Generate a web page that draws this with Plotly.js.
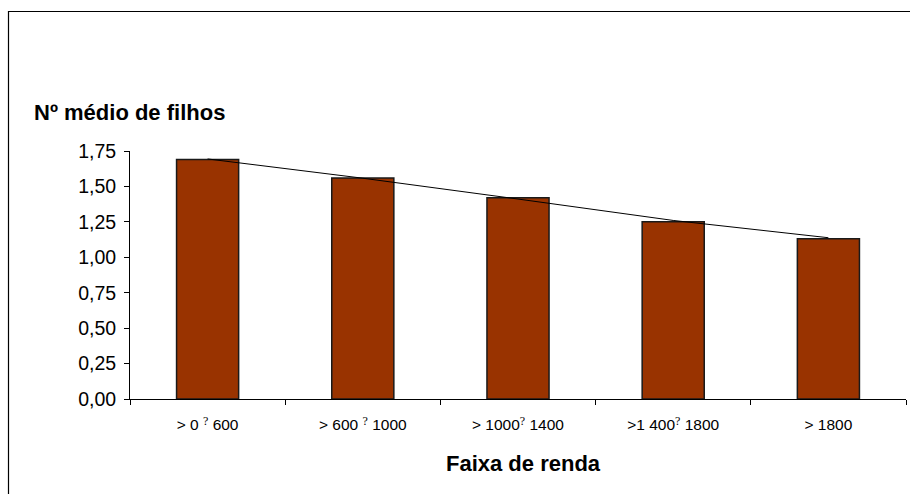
<!DOCTYPE html>
<html>
<head>
<meta charset="utf-8">
<script src="https://cdn.plot.ly/plotly-3.0.1.min.js"></script>
<style>html,body{margin:0;padding:0;background:#fff;overflow:hidden}#chart{width:910px;height:494px}</style>
</head>
<body>
<div id="chart"></div>
<script>
var categories = ["0-600", "600-1000", "1000-1400", "1400-1800", "1800+"];
var q = '<span style="font-family:Liberation Serif,Times New Roman,serif;font-size:12px;baseline-shift:5px">?</span>';
var tickLabels = ["> 0 " + q + " 600", "> 600 " + q + " 1000", "> 1000" + q + " 1400", ">1 400" + q + " 1800", "> 1800"];
var meanChildren = [1.69, 1.56, 1.42, 1.25, 1.13];
var trendValues = [1.694, 1.558, 1.411, 1.26, 1.138];
var yTitle = "Nº médio de filhos";
var xTitle = "Faixa de renda";

var W = 910, H = 494, L = 130, R = 4, T = 151, B = 95;
var pw = W - L - R, ph = H - T - B;
function px(x){ return (x - L) / pw; }
function py(y){ return (H - B - y) / ph; }

var font = "Arial, Liberation Sans, sans-serif";

var traces = [
  {
    type: "bar",
    x: categories,
    y: meanChildren,
    width: 0.4,
    marker: {color: "#993300", line: {color: "#1a1a1a", width: 1.5}},
    hoverinfo: "x+y"
  },
  {
    type: "scatter",
    mode: "lines",
    x: categories,
    y: trendValues,
    line: {color: "#000", width: 1},
    hoverinfo: "skip"
  }
];

var layout = {
  width: W, height: H,
  margin: {l: L, r: R, t: T, b: B, pad: 0},
  paper_bgcolor: "#fff",
  plot_bgcolor: "#fff",
  showlegend: false,
  separators: ",.",
  font: {family: font, color: "#000"},
  xaxis: {
    type: "category",
    tickmode: "array",
    tickvals: categories,
    ticktext: tickLabels,
    tickson: "boundaries",
    ticks: "outside",
    ticklen: 5,
    tickcolor: "#000",
    showline: true,
    linecolor: "#000",
    linewidth: 1,
    showgrid: false,
    zeroline: false,
    tickfont: {size: 15.5, family: font, color: "#000"},
    ticklabelstandoff: 11,
    fixedrange: true
  },
  yaxis: {
    range: [0, 1.75],
    tickmode: "linear",
    tick0: 0,
    dtick: 0.25,
    tickformat: ".2f",
    ticks: "outside",
    ticklen: 5,
    tickcolor: "#000",
    showline: true,
    linecolor: "#000",
    linewidth: 1,
    showgrid: false,
    zeroline: false,
    tickfont: {size: 19.5, family: font, color: "#000"},
    ticklabelstandoff: 4,
    fixedrange: true
  },
  annotations: [
    {
      text: "<b>" + yTitle + "</b>",
      xref: "paper", yref: "paper",
      x: px(32), y: py(113),
      xanchor: "left", yanchor: "middle",
      showarrow: false,
      font: {size: 22, family: font, color: "#000"}
    },
    {
      text: "<b>" + xTitle + "</b>",
      xref: "paper", yref: "paper",
      x: px(523), y: py(463),
      xanchor: "center", yanchor: "middle",
      showarrow: false,
      font: {size: 22, family: font, color: "#000"}
    }
  ],
  shapes: [
    {
      type: "path",
      xref: "paper", yref: "paper",
      path: "M " + px(8.5) + "," + py(520) + " L " + px(8.5) + "," + py(11.5) + " L " + px(930) + "," + py(11.5),
      line: {color: "#000", width: 1.2}
    }
  ]
};

Plotly.newPlot("chart", traces, layout, {displayModeBar: false, staticPlot: true});
</script>
</body>
</html>
